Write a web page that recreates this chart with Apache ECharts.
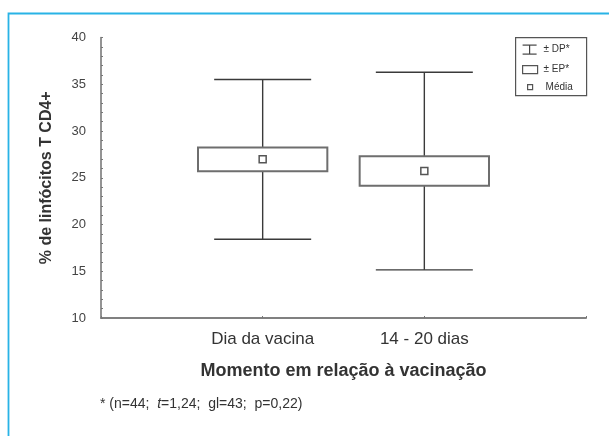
<!DOCTYPE html>
<html>
<head>
<meta charset="utf-8">
<script src="https://cdn.jsdelivr.net/npm/echarts@6/dist/echarts.min.js"></script>
<style>
html,body{margin:0;padding:0;background:#fff;}
#chart{width:609px;height:436px;}
</style>
</head>
<body>
<div id="chart"></div>
<script>
// ---- data ----
var categories = ['Dia da vacina', '14 - 20 dias'];
var means = [26.97, 25.72];        // Média
var stdErr = [1.27, 1.57];         // ± EP
var stdDev = [8.54, 10.57];        // ± DP
var yTicks = [10, 15, 20, 25, 30, 35, 40];
var legendLabels = ['\u00b1 DP*', '\u00b1 EP*', 'M\u00e9dia'];
var yAxisTitle = '% de linf\u00f3citos T CD4+';
var xAxisTitle = 'Momento em rela\u00e7\u00e3o \u00e0 vacina\u00e7\u00e3o';
var footnoteParts = ['* (n=44;  ', 't', '=1,24;  gl=43;  p=0,22)'];

var FONT = '"Liberation Sans", Arial, Helvetica, sans-serif';

var seriesData = categories.map(function (c, i) {
  return [i + 1, means[i], means[i] - stdErr[i], means[i] + stdErr[i], means[i] - stdDev[i], means[i] + stdDev[i]];
});

function renderItem(params, api) {
  var x = api.value(0);
  var pMean = api.coord([x, api.value(1)]);
  var pSeLo = api.coord([x, api.value(2)]);
  var pSeHi = api.coord([x, api.value(3)]);
  var pSdLo = api.coord([x, api.value(4)]);
  var pSdHi = api.coord([x, api.value(5)]);
  var unit = api.size([1, 0])[0];
  var boxW = unit * 0.80;
  var capW = unit * 0.60;
  var cx = pMean[0];
  var whisk = { stroke: '#3a3a3a', lineWidth: 1.4 };
  return {
    type: 'group',
    children: [
      { type: 'line', shape: { x1: cx, y1: pSdHi[1], x2: cx, y2: pSeHi[1] }, style: whisk },
      { type: 'line', shape: { x1: cx, y1: pSeLo[1], x2: cx, y2: pSdLo[1] }, style: whisk },
      { type: 'line', shape: { x1: cx - capW / 2, y1: pSdHi[1], x2: cx + capW / 2, y2: pSdHi[1] }, style: whisk },
      { type: 'line', shape: { x1: cx - capW / 2, y1: pSdLo[1], x2: cx + capW / 2, y2: pSdLo[1] }, style: whisk },
      { type: 'rect', shape: { x: cx - boxW / 2, y: pSeHi[1], width: boxW, height: pSeLo[1] - pSeHi[1] },
        style: { fill: '#fff', stroke: '#6e6e6e', lineWidth: 2 } },
      { type: 'rect', shape: { x: cx - 3.5, y: pMean[1] - 3.5, width: 7, height: 7 },
        style: { fill: '#fff', stroke: '#555', lineWidth: 1.5 } }
    ]
  };
}

var chart = echarts.init(document.getElementById('chart'), null, { renderer: 'canvas' });
chart.setOption({
  animation: false,
  backgroundColor: '#fff',
  grid: { left: 101, right: 23, top: 37.5, bottom: 118 },
  xAxis: {
    type: 'value', min: 0, max: categories.length + 1, interval: 1,
    splitLine: { show: false },
    axisLine: { lineStyle: { color: '#808080', width: 2 } },
    axisTick: { show: true, inside: true, length: 2, lineStyle: { color: '#777' } },
    axisLabel: {
      margin: 13, fontSize: 17, color: '#333', fontFamily: FONT,
      formatter: function (v) { return categories[v - 1] || ''; }
    },
    name: xAxisTitle, nameLocation: 'middle', nameGap: 44,
    nameTextStyle: { fontSize: 18, fontWeight: 'bold', color: '#333', fontFamily: FONT }
  },
  yAxis: {
    type: 'value', min: yTicks[0], max: yTicks[yTicks.length - 1], interval: yTicks[1] - yTicks[0],
    splitLine: { show: false },
    axisLine: { show: true, lineStyle: { color: '#707070', width: 1.5 } },
    axisTick: { show: true, inside: true, length: 2, lineStyle: { color: '#777' } },
    minorTick: { show: true, splitNumber: 5, length: 2, lineStyle: { color: '#777' } },
    axisLabel: { margin: 15, fontSize: 13, color: '#444', fontFamily: FONT },
    name: yAxisTitle, nameLocation: 'middle', nameGap: 46,
    nameTextStyle: { fontSize: 16, fontWeight: 'bold', color: '#333', fontFamily: FONT }
  },
  series: [{
    type: 'custom',
    renderItem: renderItem,
    encode: { x: 0, y: [1, 2, 3, 4, 5] },
    data: seriesData,
    clip: false,
    z: 10
  }],
  graphic: [
    { type: 'polyline', silent: true, shape: { points: [[8.5, 436], [8.5, 13.5], [609, 13.5]] },
      style: { stroke: '#29b3e6', lineWidth: 1.8, fill: null } },
    { type: 'text', left: 100, top: 397,
      style: {
        text: footnoteParts[0] + '{i|' + footnoteParts[1] + '}' + footnoteParts[2],
        font: '14px ' + FONT, fill: '#333',
        rich: { i: { fontStyle: 'italic', fontSize: 14, fontFamily: FONT, fill: '#333' } }
      } },
    { type: 'group', left: 515, top: 37,
      children: [
        { type: 'rect', shape: { x: 0, y: 0, width: 71, height: 58 }, style: { fill: '#fff', stroke: '#555', lineWidth: 1.2 } },
        // DP icon
        { type: 'line', shape: { x1: 7, y1: 7.5, x2: 21, y2: 7.5 }, style: { stroke: '#444', lineWidth: 1.2 } },
        { type: 'line', shape: { x1: 7, y1: 16.5, x2: 21, y2: 16.5 }, style: { stroke: '#444', lineWidth: 1.2 } },
        { type: 'line', shape: { x1: 14, y1: 7.5, x2: 14, y2: 16.5 }, style: { stroke: '#444', lineWidth: 1.2 } },
        { type: 'text', x: 28, y: 12, style: { text: legendLabels[0], font: '10px ' + FONT, fill: '#333', verticalAlign: 'middle' } },
        // EP icon
        { type: 'rect', shape: { x: 7, y: 28, width: 15, height: 8 }, style: { fill: '#fff', stroke: '#555', lineWidth: 1.2 } },
        { type: 'text', x: 28, y: 32, style: { text: legendLabels[1], font: '10px ' + FONT, fill: '#333', verticalAlign: 'middle' } },
        // Mean icon
        { type: 'rect', shape: { x: 12, y: 47, width: 5, height: 5 }, style: { fill: '#fff', stroke: '#555', lineWidth: 1.2 } },
        { type: 'text', x: 30, y: 50, style: { text: legendLabels[2], font: '10px ' + FONT, fill: '#333', verticalAlign: 'middle' } }
      ]
    }
  ]
});
</script>
</body>
</html>
